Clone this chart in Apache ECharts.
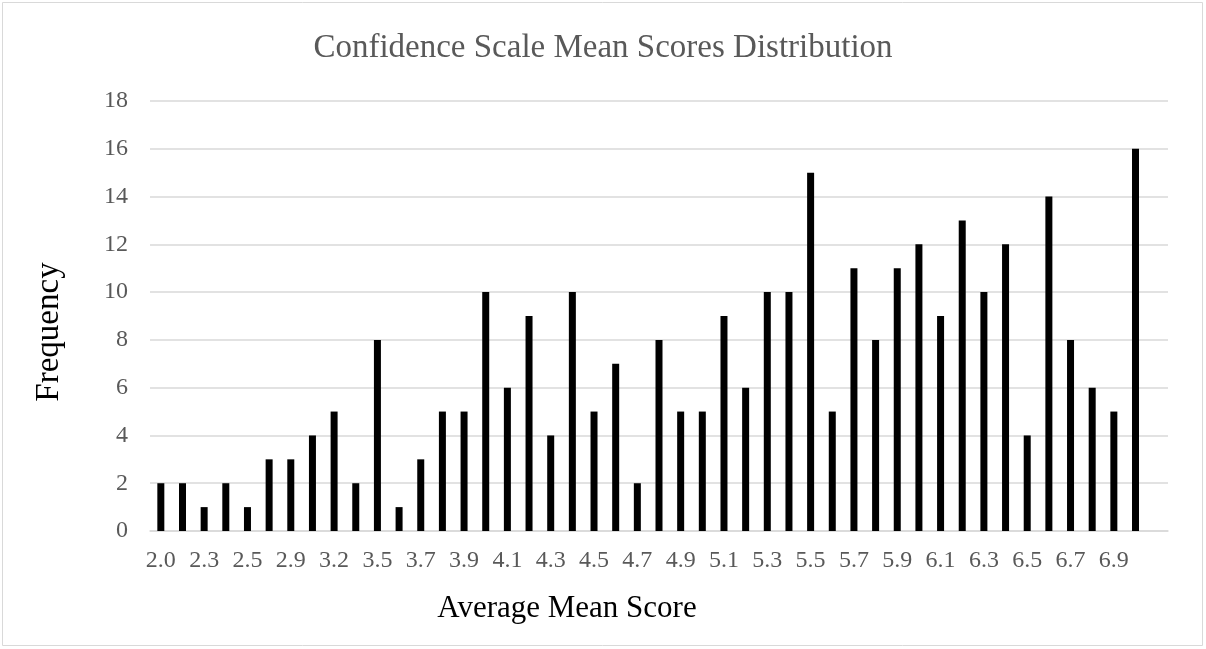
<!DOCTYPE html>
<html>
<head>
<meta charset="utf-8">
<script src="https://cdn.jsdelivr.net/npm/echarts@6/dist/echarts.min.js"></script>
<style>
html,body{margin:0;padding:0;background:#fff;}
#chart{width:1206px;height:649px;}
</style>
</head>
<body>
<div id="chart"></div>
<script>
const titleText = 'Confidence Scale Mean Scores Distribution';
const xAxisName = 'Average Mean Score';
const yAxisName = 'Frequency';
const categories = ['2.0','2.2','2.3','2.4','2.5','2.7','2.9','3.0','3.2','3.4','3.5','3.6','3.7','3.8','3.9','4.0',
  '4.1','4.2','4.3','4.4','4.5','4.6','4.7','4.8','4.9','5.0','5.1','5.2','5.3','5.4','5.5','5.6','5.7','5.8','5.9','6.0',
  '6.1','6.2','6.3','6.4','6.5','6.6','6.7','6.8','6.9','7.0',''];
const frequency = [2,2,1,2,1,3,3,4,5,2,8,1,3,5,5,10,6,9,4,10,5,7,2,8,5,5,9,6,10,10,15,5,11,8,11,12,9,13,10,12,4,14,8,6,5,16,null];
const yTicks = {min:0, max:18, interval:2};

const chart = echarts.init(document.getElementById('chart'), null, {renderer:'canvas'});
const serif = '"Liberation Serif", "DejaVu Serif", serif';
chart.setOption({
  animation:false,
  backgroundColor:'#fff',
  title:{
    text:titleText, left:'center', top:27,
    textStyle:{fontFamily:serif, fontWeight:'normal', fontSize:33, color:'#595959'}
  },
  graphic:[{type:'rect', shape:{x:2.5,y:2.5,width:1200,height:643}, style:{fill:'none', stroke:'#d9d9d9', lineWidth:1}, silent:true}],
  grid:{left:150, right:38, top:101, bottom:118, containLabel:false},
  xAxis:{
    type:'category', data:categories,
    name:xAxisName, nameLocation:'middle', nameGap:62,
    nameTextStyle:{fontFamily:serif, fontSize:31, color:'#000', padding:[0,184,0,0]},
    axisLine:{lineStyle:{color:'#d9d9d9', width:1.5}},
    axisTick:{show:false},
    axisLabel:{interval:1, margin:18, fontFamily:serif, fontSize:24, color:'#595959'}
  },
  yAxis:{
    type:'value', min:yTicks.min, max:yTicks.max, interval:yTicks.interval,
    name:yAxisName, nameLocation:'middle', nameGap:84,
    nameTextStyle:{fontFamily:serif, fontSize:33, color:'#000', padding:[0,32,0,0]},
    axisLine:{show:false}, axisTick:{show:false},
    splitLine:{lineStyle:{color:'#d9d9d9', width:1.5}},
    axisLabel:{margin:22, fontFamily:serif, fontSize:24, color:'#595959'}
  },
  series:[{
    type:'bar', data:frequency, barWidth:7,
    itemStyle:{color:'#000'}
  }]
});
</script>
</body>
</html>
